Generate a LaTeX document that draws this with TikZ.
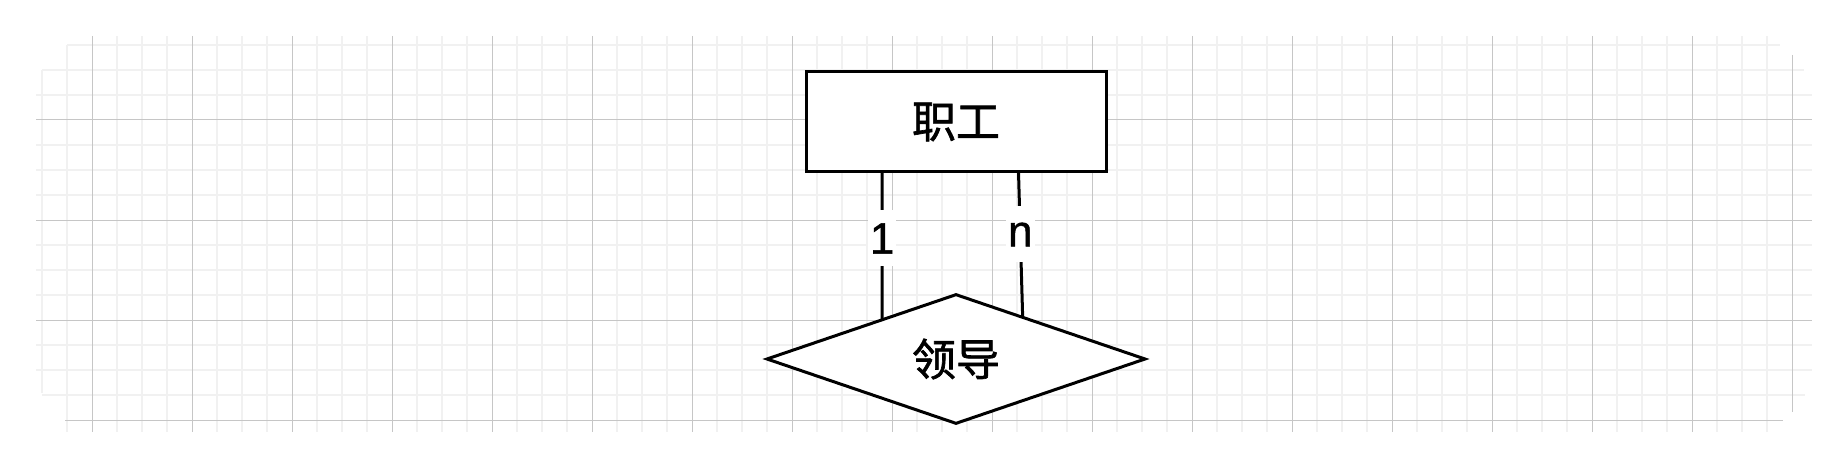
\documentclass[tikz,border=0pt]{standalone}
\usepackage{fontspec}
\setmainfont{Liberation Sans}
\newfontfamily\cjkfont[FakeBold=1.5]{Noto Sans CJK SC}
\newfontfamily\cardfont[FakeBold=1]{Liberation Sans}
\usetikzlibrary{shapes.geometric}
\definecolor{gridminor}{RGB}{241,241,241}
\definecolor{gridmajor}{RGB}{198,198,198}
\begin{document}
\begin{tikzpicture}[x=1pt,y=-1pt,
  minorline/.style={draw=gridminor,line width=1.5pt},
  majorline/.style={draw=gridmajor,line width=1pt},
  entitybox/.style={draw=black,line width=3pt,fill=white,minimum width=300pt,minimum height=100pt,inner sep=0pt,outer sep=0pt,font=\cjkfont\fontsize{44}{50}\selectfont},
  relbox/.style={diamond,draw=black,line width=3pt,fill=white,minimum width=378pt,minimum height=125pt,inner sep=0pt,outer sep=0pt,font=\cjkfont\fontsize{44}{50}\selectfont},
  link/.style={draw=black,line width=3pt},
  cardlabel/.style={fill=white,inner xsep=2pt,inner ysep=0pt,minimum height=56pt,font=\cardfont\fontsize{44}{50}\selectfont}]
\useasboundingbox (0,0) rectangle (1848,468);
% minor grid, vertical
\draw[minorline] (42,70) -- (42,393);
\draw[minorline] (67,45) -- (67,432);
\foreach \j in {0,...,16}{
  \foreach \k in {25,50,75}{
    \draw[minorline] ({92+100*\j+\k},36) -- ({92+100*\j+\k},432);
  }
}
% minor grid, horizontal
\draw[minorline] (67,45) -- (1780,45);
\draw[minorline] (42,70) -- (1804,70);
\foreach \y in {95,145,170,195,245,270,295,345,370}{
  \draw[minorline] (36,\y) -- (1812,\y);
}
\draw[minorline] (42,395) -- (1805,395);
% major grid
\foreach \j in {0,...,16}{
  \draw[majorline] ({92+100*\j},36) -- ({92+100*\j},432);
}
\draw[majorline] (1792,55) -- (1792,412);
\foreach \y in {120,220,320}{
  \draw[majorline] (36,\y) -- (1812,\y);
}
\draw[majorline] (65,420) -- (1783,420);
% diagram
\node[entitybox] (emp) at (956,122) {职工};
\node[relbox] (lead) at (956,359) {领导};
\coordinate (e1) at ([xshift=-74pt]emp.south);
\coordinate (en) at ([xshift=62.5pt]emp.south);
\draw[link] (e1) -- node[cardlabel,pos=0.45] (l1) {1} (lead.152.8);
\draw[link] (en) -- node[cardlabel,pos=0.43] (ln) {n} (lead.32.6);
\end{tikzpicture}
\end{document}
